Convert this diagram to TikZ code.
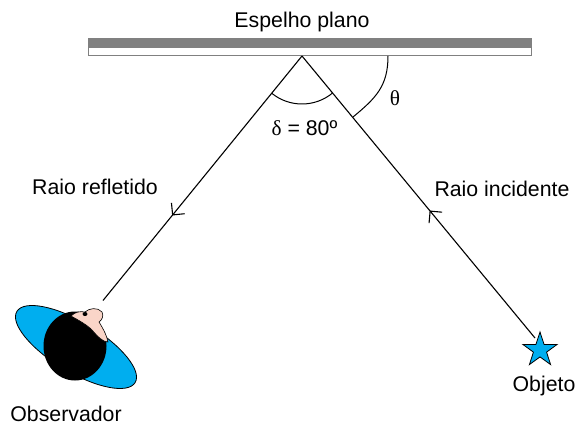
\documentclass[tikz,border=0pt]{standalone}
\usepackage{fontspec}
\setmainfont{Liberation Sans}
\newfontfamily\greekfont{Liberation Serif}
\usetikzlibrary{shapes.geometric}
\definecolor{skyb}{HTML}{00AEEF}
\definecolor{mirrorgray}{HTML}{808080}
\definecolor{skin}{HTML}{FAD5C8}
\begin{document}
\begin{tikzpicture}[x=1pt,y=-1pt,
  font=\fontsize{21.3}{25}\selectfont,
  ray/.style={line width=1.1pt},
  barb/.style={line width=1.1pt},
  lbl/.style={inner sep=0pt,anchor=base},
  outl/.style={draw=black,line width=0.8pt}]
\useasboundingbox (0,0) rectangle (587,428);
% mirror
\fill[mirrorgray] (88,38) rectangle (532,48);
\draw[mirrorgray,fill=white,line width=1pt] (88.5,48) rectangle (531.5,56);
\node[lbl] (mirrorlbl) at (302,28) {Espelho plano};
% points
\coordinate (apex) at (302,56);
\coordinate (obsend) at (103,300.5);
\coordinate (objtip) at (535,338);
% observer
\node[ellipse,outl,fill=skyb,minimum width=138pt,minimum height=50pt,inner sep=0pt,rotate=-31] (body) at (76,347) {};
\node[ellipse,fill=black,minimum width=63pt,minimum height=69pt,inner sep=0pt] (head) at (75,346) {};
\draw[outl,fill=skin,line width=0.6pt] (71,316) .. controls (75,312) and (80,311) .. (85,312)
  .. controls (89,308) and (98,307) .. (102,312)
  .. controls (104,316) and (102,320) .. (99,322)
  .. controls (102,327) and (106,333) .. (108,342)
  .. controls (103,342) and (98,337) .. (92,330)
  .. controls (86,324) and (78,320) .. (71,316) -- cycle;
\fill[black] (85,314) ellipse (2.5 and 2);
% object
\node[star,star points=5,star point ratio=2.6,outl,fill=skyb,minimum size=36pt,inner sep=0pt] (obj) at (540,350) {};
% rays
\draw[ray] (apex) -- coordinate[pos=0.65] (ltip) (obsend);
\draw[ray] (objtip) -- coordinate[pos=0.45] (rtip) (apex);
\draw[barb] (ltip) ++(12,-1.2) -- (ltip) -- ++(-1.2,-12);
\draw[barb] (rtip) ++(-1.1,12) -- (rtip) -- ++(12,1.1);
% angles
\draw[line width=1pt] (apex) ++(129.2:48) arc[start angle=129.2,end angle=50.3,radius=48];
\draw[line width=1pt] (388,56) .. controls (388,86) and (376,98) .. (353,117);
% labels
\node[lbl] (delta) at (304.5,135.5) {{\greekfont δ} = 80º};
\node[lbl] (theta) at (395,106) {\greekfont θ};
\node[lbl] (refl) at (95,194) {Raio refletido};
\node[lbl] (inc) at (502,196.5) {Raio incidente};
\node[lbl] (obs) at (66,421) {Observador};
\node[lbl] (objlbl) at (544,391) {Objeto};
\end{tikzpicture}
\end{document}
